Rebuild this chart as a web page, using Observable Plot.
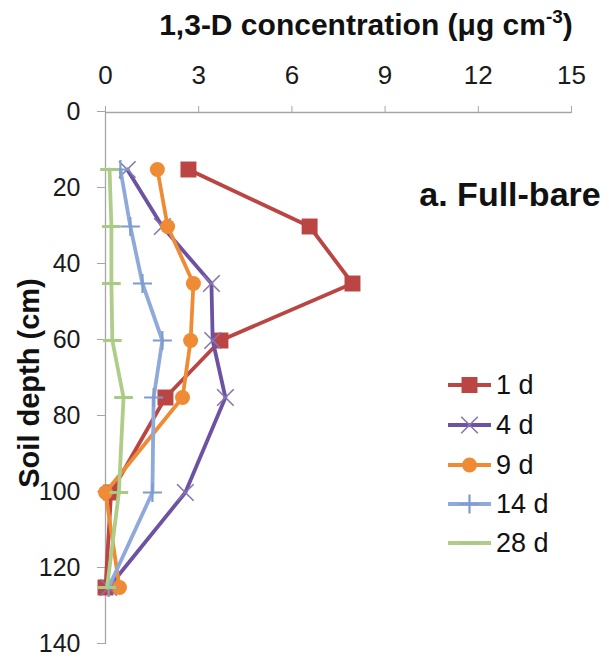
<!DOCTYPE html>
<html>
<head>
<meta charset="utf-8">
<script src="https://cdn.jsdelivr.net/npm/d3@7"></script>
<script src="https://cdn.jsdelivr.net/npm/@observablehq/plot@0.6"></script>
<style>
  html, body { margin: 0; padding: 0; background: #fff; }
  #wrap { position: relative; width: 609px; height: 658px; }
  #wrap svg { position: absolute; left: 0; top: 0; }
</style>
</head>
<body>
<div id="wrap"></div>
<script>
// ---- data ----
const depths = [15, 30, 45, 60, 75, 100, 125];
const seriesNames = ["1 d", "4 d", "9 d", "14 d", "28 d"];
const conc1d  = [2.67, 6.57, 7.95, 3.70, 1.93, 0.18, 0.00];
const conc4d  = [0.70, 1.83, 3.41, 3.45, 3.86, 2.57, 0.10];
const conc9d  = [1.67, 2.00, 2.83, 2.74, 2.48, 0.00, 0.45];
const conc14d = [0.48, 0.80, 1.19, 1.83, 1.55, 1.51, 0.10];
const conc28d = [0.13, 0.19, 0.19, 0.22, 0.58, 0.43, 0.05];
const xTicks = [0, 3, 6, 9, 12, 15];
const yTicks = [0, 20, 40, 60, 80, 100, 120, 140];
const titleText = "1,3-D concentration (μg cm";
const titleSup = "-3";
const yLabel = "Soil depth (cm)";
const panelLabel = "a. Full-bare";

// ---- styles ----
const colors = ["#BA4542", "#6C52A2", "#EF8B35", "#8FAADA", "#ADCD88"];
const markerColors = ["#BA4542", "#8674B4", "#EF8B35", "#7F9CCF", "#A9CA83"];
const axisGray = "#A6A6A6";
const font = "'Liberation Sans', Arial, sans-serif";

const dash = {
  draw(ctx, size) {
    const w = Math.sqrt(size) * 0.62;
    ctx.moveTo(-w, 0); ctx.lineTo(w, 0);
  }
};
const symbols = ["square", "times", "circle", "plus", dash];
const symbolR = [9, 7.6, 7.5, 6.2, 8.5];
const symbolFilled = [true, false, true, false, false];
const symbolStrokeW = [0, 1.6, 0, 2.2, 3];

const seriesValues = [conc1d, conc4d, conc9d, conc14d, conc28d];
const rows = seriesNames.flatMap((s, i) =>
  depths.map((d, j) => ({series: s, idx: i, depth: d, conc: seriesValues[i][j]})));

const marks = [
  Plot.ruleY([0], {stroke: axisGray, strokeWidth: 1.3}),
  Plot.ruleX([0], {stroke: axisGray, strokeWidth: 1.3}),
  Plot.axisX({anchor: "top", ticks: xTicks, tickSize: 7, tickPadding: 22, stroke: axisGray,
              fill: "#1a1a1a", fontSize: 26, label: null, tickFormat: d => String(d)}),
  Plot.axisY({anchor: "left", ticks: yTicks, tickSize: 8, tickPadding: 17, stroke: axisGray,
              fill: "#1a1a1a", fontSize: 25, dy: -1, label: null, tickFormat: d => String(d)})
];
seriesNames.forEach((s, i) => {
  const data = rows.filter(r => r.idx === i);
  marks.push(Plot.line(data, {x: "conc", y: "depth", stroke: colors[i], strokeWidth: 3.8,
                              strokeLinejoin: "round", strokeLinecap: "round"}));
  marks.push(Plot.dot(data, {
    x: "conc", y: "depth", symbol: () => symbols[i], r: symbolR[i],
    fill: symbolFilled[i] ? markerColors[i] : "none",
    stroke: symbolFilled[i] ? "none" : markerColors[i],
    strokeWidth: symbolStrokeW[i]
  }));
});

const chart = Plot.plot({
  width: 609, height: 658,
  marginTop: 112, marginLeft: 105, marginRight: 38, marginBottom: 14,
  x: {domain: [0, 15], axis: null},
  y: {domain: [0, 140], reverse: true, axis: null},
  symbol: {type: "identity"},
  style: {fontFamily: font, color: "#1a1a1a", background: "white"},
  marks
});
document.getElementById("wrap").appendChild(chart);

// ---- overlay: title, y label, panel label, legend ----
const ov = d3.select("#wrap").append("svg")
  .attr("width", 609).attr("height", 658)
  .style("pointer-events", "none")
  .style("font-family", font);

const t = ov.append("text").attr("x", 366).attr("y", 35).attr("text-anchor", "middle")
  .attr("font-weight", "bold").attr("font-size", 30).attr("fill", "#111");
t.append("tspan").text(titleText);
t.append("tspan").attr("font-size", 19).attr("dy", -12).text(titleSup);
t.append("tspan").attr("dy", 12).text(")");

ov.append("text").attr("transform", "translate(39,383) rotate(-90)")
  .attr("text-anchor", "middle").attr("font-weight", "bold").attr("font-size", 29)
  .attr("fill", "#111").text(yLabel);

ov.append("text").attr("x", 510).attr("y", 206).attr("text-anchor", "middle")
  .attr("font-weight", "bold").attr("font-size", 34).attr("fill", "#111").text(panelLabel);

const legY = [385, 425, 465, 504, 543];
seriesNames.forEach((s, i) => {
  const g = ov.append("g").attr("transform", `translate(448,${legY[i]})`);
  g.append("line").attr("x1", 0).attr("x2", 43).attr("y1", 0).attr("y2", 0)
    .attr("stroke", colors[i]).attr("stroke-width", 3.8);
  const sym = typeof symbols[i] === "string"
    ? {square: d3.symbolSquare, times: d3.symbolTimes, circle: d3.symbolCircle, plus: d3.symbolPlus}[symbols[i]]
    : symbols[i];
  g.append("path").attr("transform", "translate(21.5,0)")
    .attr("d", d3.symbol(sym, Math.PI * symbolR[i] * symbolR[i])())
    .attr("fill", symbolFilled[i] ? markerColors[i] : "none")
    .attr("stroke", symbolFilled[i] ? "none" : markerColors[i])
    .attr("stroke-width", symbolStrokeW[i]);
  g.append("text").attr("x", 48).attr("y", 0).attr("dy", "0.35em")
    .attr("font-size", 27).attr("fill", "#111").text(s);
});
</script>
</body>
</html>
